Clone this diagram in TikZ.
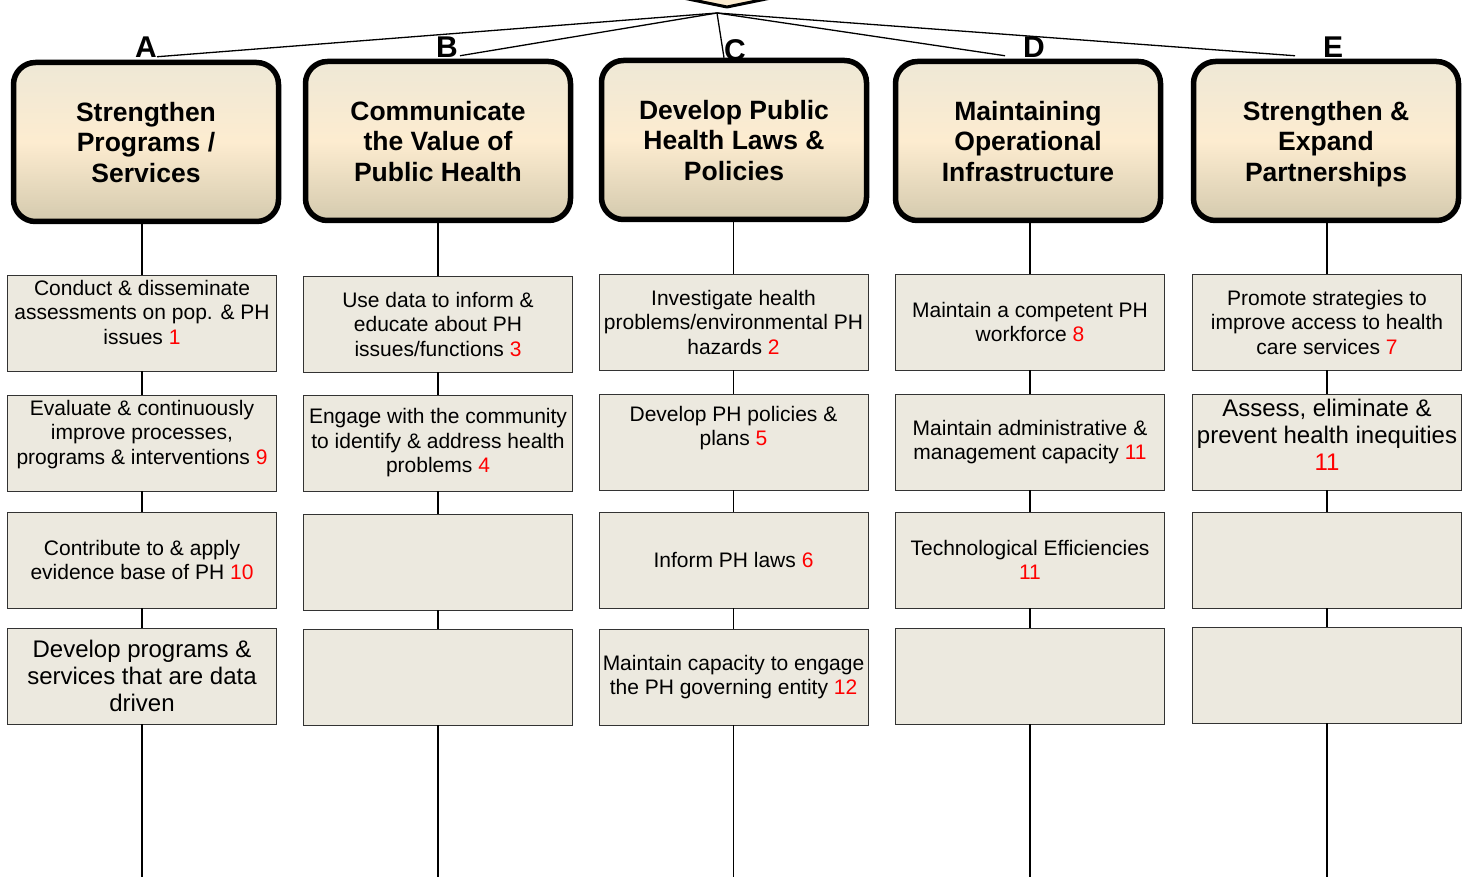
\documentclass[tikz,border=0pt]{standalone}
\usepackage{fontspec}
\setmainfont{Liberation Sans}
\usetikzlibrary{calc}
\definecolor{boxfill}{RGB}{236,233,223}
\definecolor{hdtop}{RGB}{238,232,214}
\definecolor{hdmid}{RGB}{253,236,208}
\definecolor{hdbot}{RGB}{212,202,174}
\newcommand{\pnum}[1]{\textcolor{red}{#1}}

\begin{document}
\begin{tikzpicture}[x=1pt,y=-1pt,
    header/.style={draw, line width=5.5pt, rounded corners=22pt, top color=hdtop, bottom color=hdbot, middle color=hdmid,
      minimum width=265pt, minimum height=159pt, text depth=0pt, align=center, font=\fontsize{26.5}{30.5}\selectfont\bfseries},
    box/.style={draw=black!80, line width=0.8pt, fill=boxfill, minimum width=269pt, minimum height=96pt,
      inner sep=2pt, align=center, font=\fontsize{21}{24.5}\selectfont},
    bigbox/.style={box, font=\fontsize{24}{27}\selectfont},
    letter/.style={anchor=base, inner sep=0pt, font=\fontsize{30}{30}\selectfont\bfseries},
    link/.style={line width=1.8pt},
    fan/.style={line width=1.3pt}]
  \useasboundingbox (0,0) rectangle (1469,877);

  % top of the tree, cut off by the page
  \filldraw[fill=hdmid, line width=3pt, line join=round] (644,-10) -- (727,7) -- (810,-10);
  \coordinate (root) at (717,13);

  % the five headers
  \node[header] (hA) at (146,142) {Strengthen\\Programs /\\Services};
  \node[header] (hB) at (438,141) {Communicate\\the Value of\\Public Health};
  \node[header] (hC) at (734,140) {Develop Public\\Health Laws \&\\Policies};
  \node[header] (hD) at (1028,141) {Maintaining\\Operational\\Infrastructure};
  \node[header] (hE) at (1326,141) {Strengthen \&\\Expand\\Partnerships};

  \draw[fan] (root) -- ($(hA.north)+(11,-3)$);
  \draw[fan] (root) -- ($(hB.north)+(22,-3)$);
  \draw[fan] (root) -- ($(hC.north)+(-10,0)$);
  \draw[fan] (root) -- ($(hD.north)+(-23,-3)$);
  \draw[fan] (root) -- ($(hE.north)+(-31,-3)$);

  \node[letter] (lA) at (146,58) {A};
  \node[letter] (lB) at (447,58) {B};
  \node[letter] (lC) at (735,61) {C};
  \node[letter] (lD) at (1034,58) {D};
  \node[letter] (lE) at (1333,58) {E};

  % column A
  \node[box, text depth=22pt] (bA1) at (142,323) {Conduct \& disseminate\\assessments on pop. \& PH\\issues \pnum{1}};
  \node[box, text depth=22pt] (bA2) at (142,443) {Evaluate \& continuously\\improve processes,\\programs \& interventions \pnum{9}};
  \node[box] (bA3) at (142,560) {Contribute to \& apply\\evidence base of PH \pnum{10}};
  \node[bigbox] (bA4) at (142,676) {Develop programs \&\\services that are data\\driven};

  % column B
  \node[box] (bB1) at (438,324) {Use data to inform \&\\educate about PH\\issues/functions \pnum{3}};
  \node[box] (bB2) at (438,443) {Engage with the community\\to identify \& address health\\problems \pnum{4}};
  \node[box] (bB3) at (438,562) {};
  \node[box] (bB4) at (438,677) {};

  % column C
  \node[box] (bC1) at (733.5,322) {Investigate health\\problems/environmental PH\\hazards \pnum{2}};
  \node[box, text depth=32pt] (bC2) at (733.5,442) {Develop PH policies \&\\plans \pnum{5}};
  \node[box] (bC3) at (733.5,560) {Inform PH laws \pnum{6}};
  \node[box] (bC4) at (733.5,677) {Maintain capacity to engage\\the PH governing entity \pnum{12}};

  % column D
  \node[box] (bD1) at (1030,322) {Maintain a competent PH\\workforce \pnum{8}};
  \node[box] (bD2) at (1030,442) {Maintain administrative \&\\management capacity \pnum{11}};
  \node[box] (bD3) at (1030,560) {Technological Efficiencies\\\pnum{11}};
  \node[box] (bD4) at (1030,676) {};

  % column E
  \node[box] (bE1) at (1327,322) {Promote strategies to\\improve access to health\\care services \pnum{7}};
  \node[bigbox, text depth=14pt] (bE2) at (1327,442) {Assess, eliminate \&\\prevent health inequities\\\pnum{11}};
  \node[box] (bE3) at (1327,560) {};
  \node[box] (bE4) at (1327,675) {};

  % lines down each column
  \foreach \c/\x in {A/142,B/438,C/733.5,D/1030,E/1327} {
    \coordinate (end\c) at (\x,880);
    \draw[link] (h\c.south -| end\c) -- (b\c1) (b\c1) -- (b\c2) (b\c2) -- (b\c3)
      (b\c3) -- (b\c4) (b\c4) -- (end\c);
  }
\end{tikzpicture}
\end{document}
